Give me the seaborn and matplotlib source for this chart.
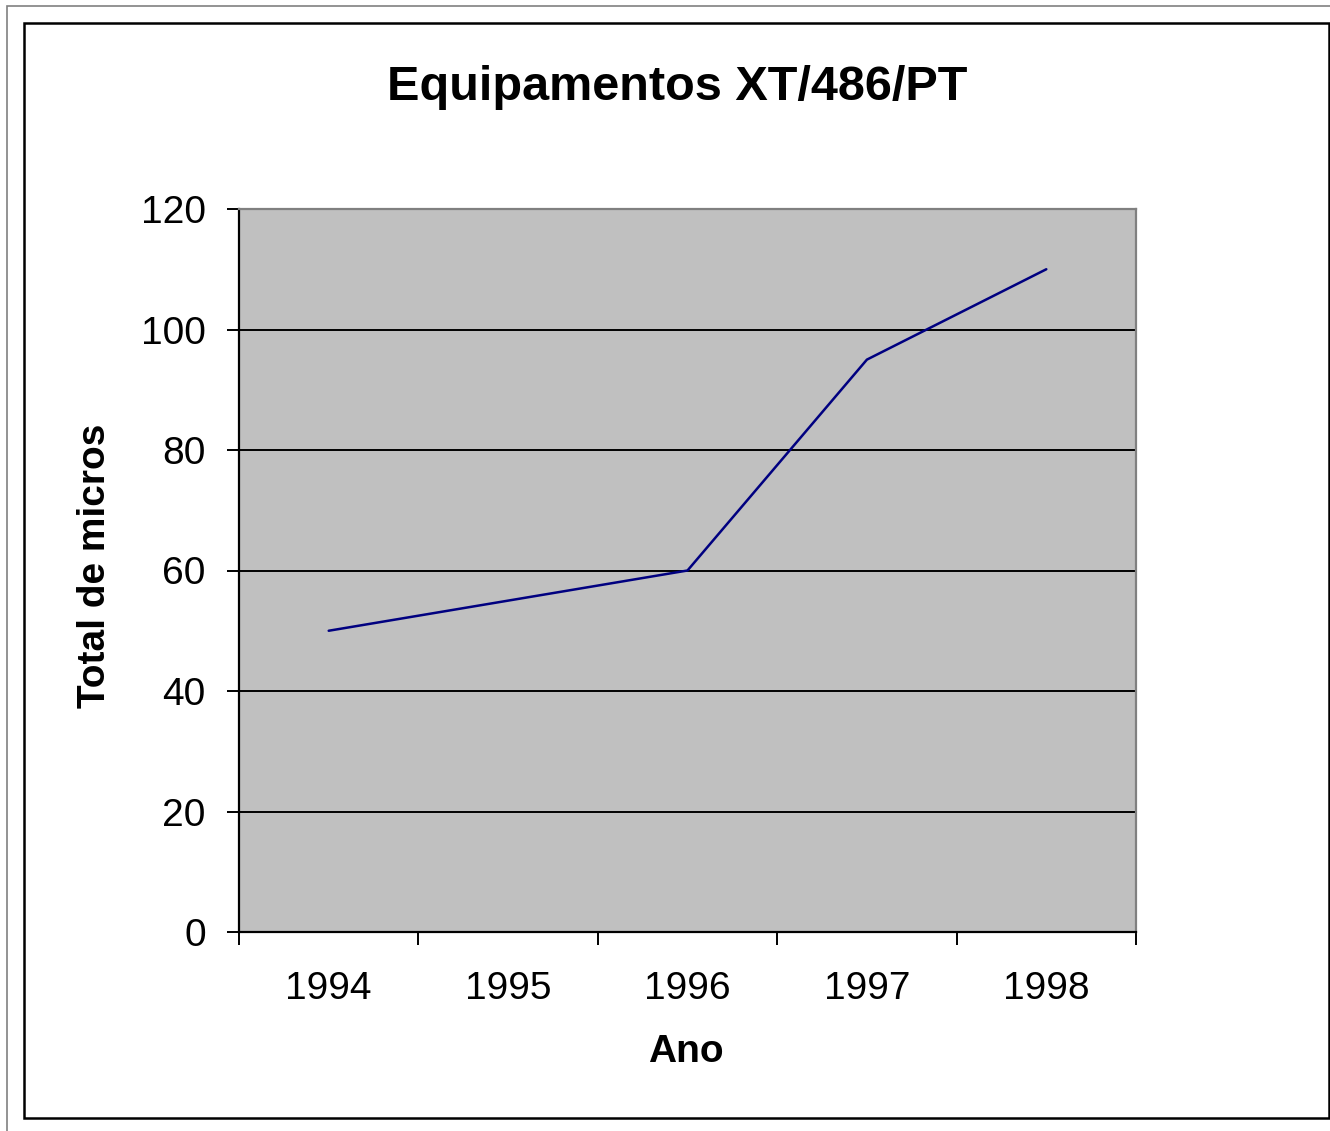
import matplotlib
matplotlib.use("Agg")
import matplotlib.pyplot as plt
import matplotlib.patches as mpatches
import seaborn as sns
import pandas as pd
import numpy as np

# Data
anos = ["1994", "1995", "1996", "1997", "1998"]
total_micros = [50, 55, 60, 95, 110]
y_ticks = [0, 20, 40, 60, 80, 100, 120]

sns.set_style("white")
plt.rcParams['font.family'] = ['Liberation Sans', 'DejaVu Sans']
plt.rcParams['text.color'] = 'black'
plt.rcParams['axes.labelcolor'] = 'black'
plt.rcParams['xtick.color'] = 'black'
plt.rcParams['ytick.color'] = 'black'

W, H = 1330, 1131
fig = plt.figure(figsize=(W / 100, H / 100), dpi=100)
fig.patch.set_facecolor("white")

L, R, T, B = 239, 1136, 209, 932
ax = fig.add_axes([L / W, 1 - B / H, (R - L) / W, (B - T) / H])
ax.set_facecolor("#C0C0C0")

df = pd.DataFrame({"pos": np.arange(len(anos)), "Total": total_micros})
sns.lineplot(data=df, x="pos", y="Total", color="#000080", lw=1.8, ax=ax, zorder=3)

ax.set_xlim(-0.5, len(anos) - 0.5)
ax.set_ylim(0, 120)

FS = 28
# Gridlines
ax.set_yticks(y_ticks)
ax.set_yticklabels([str(v) for v in y_ticks], fontsize=FS)
for v in y_ticks[1:-1]:
    ax.axhline(v, color="black", lw=1.4, zorder=1)
ax.grid(False)

# x ticks at category boundaries, labels at centres
ax.set_xticks(np.arange(-0.5, len(anos), 1.0))
ax.set_xticklabels([])
ax.set_xticks(np.arange(len(anos)), minor=True)
ax.set_xticklabels(anos, minor=True, fontsize=FS)
ax.tick_params(axis="x", which="major", bottom=True, direction="out", length=9,
               width=1.4, color="black")
ax.tick_params(axis="x", which="minor", bottom=True, length=0, pad=28)
ax.tick_params(axis="y", left=True, direction="out", length=9, width=1.4,
               color="black", pad=15)
ax.tick_params(axis="both", which="both", labelcolor="black")

for s in ["left", "bottom"]:
    ax.spines[s].set_color("black")
    ax.spines[s].set_linewidth(1.6)
    ax.spines[s].set_visible(True)
for s in ["top", "right"]:
    ax.spines[s].set_color("#808080")
    ax.spines[s].set_linewidth(1.6)
    ax.spines[s].set_visible(True)

ax.set_xlabel("Ano", fontsize=FS, fontweight="bold", color="black")
ax.set_ylabel("Total de micros", fontsize=FS, fontweight="bold", color="black")
ax.xaxis.label.set_va("center")
ax.yaxis.label.set_va("center")
ax.xaxis.set_label_coords((686 - L) / (R - L), (B - 1052) / (B - T))
ax.yaxis.set_label_coords((95 - L) / (R - L), (B - 566) / (B - T))

fig.text(677 / W, 1 - 88 / H, "Equipamentos XT/486/PT", fontsize=35,
         fontweight="bold", ha="center", va="center", color="black")

# Frames
fig.patches.append(mpatches.Rectangle((7 / W, -0.05), 1.2, 1 - 6 / H + 0.05,
                                      transform=fig.transFigure, fill=False,
                                      edgecolor="#808080", lw=1.2))
fig.patches.append(mpatches.Rectangle((24 / W, 1 - 1117.5 / H), (1328.5 - 24) / W,
                                      (1117.5 - 23) / H, transform=fig.transFigure,
                                      fill=False, edgecolor="black", lw=1.8))

fig.savefig("out.png", dpi=100)
